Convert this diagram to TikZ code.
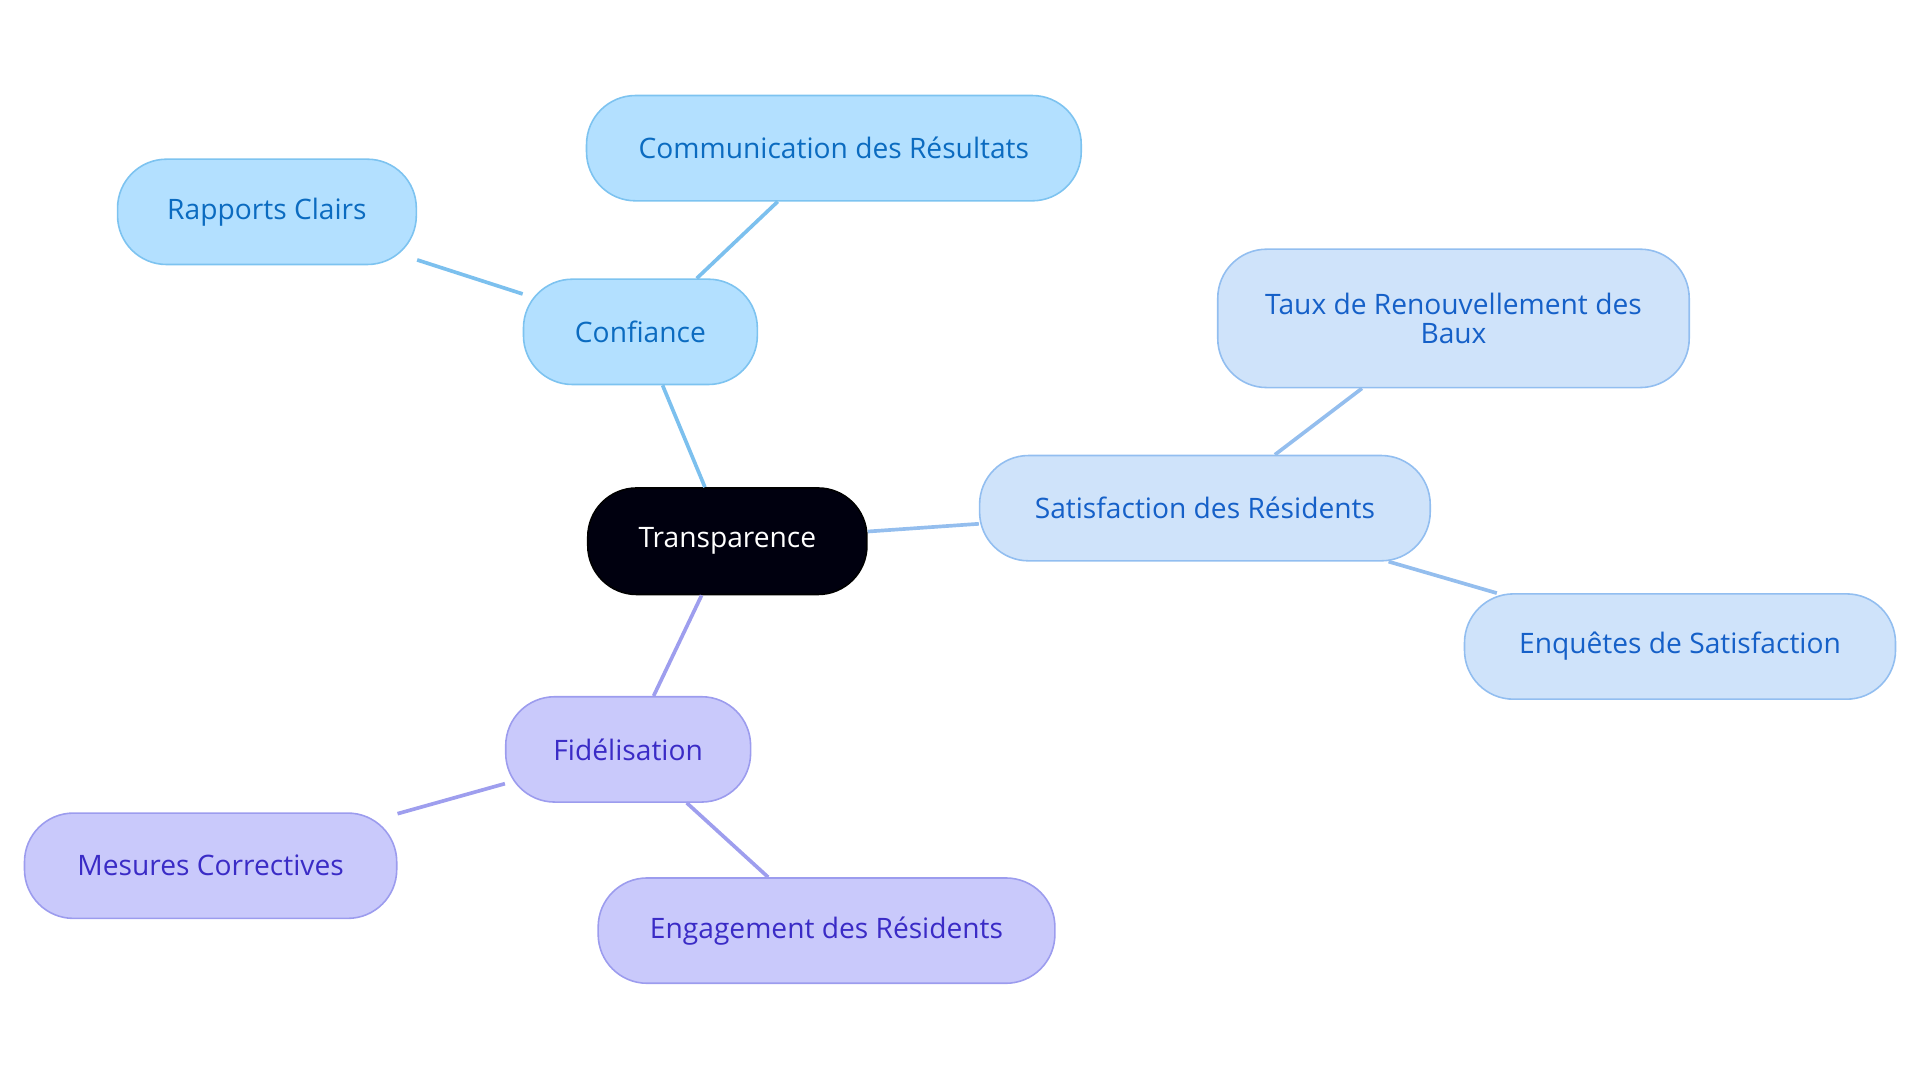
\documentclass[tikz,border=0pt]{standalone}
\usepackage{fontspec}
\setmainfont{Open Sans}
\begin{document}
\begin{tikzpicture}[x=1pt,y=-1pt,
 box/.style={draw,line width=1.3pt,rounded corners=40pt,minimum height=86pt,align=center,font=\fontsize{23}{26}\selectfont,inner sep=0pt},
 blue/.style={box,fill=cA,draw=sA,text=tA},
 sat/.style={box,fill=cB,draw=sB,text=tB},
 pur/.style={box,fill=cC,draw=sC,text=tC},
 eA/.style={draw=lA,line width=3pt},
 eB/.style={draw=lB,line width=3pt},
 eC/.style={draw=lC,line width=3pt}]
\definecolor{cA}{HTML}{B3E0FF}\definecolor{sA}{HTML}{7DC3F0}\definecolor{tA}{HTML}{0B6BC0}
\definecolor{cB}{HTML}{CFE3FA}\definecolor{sB}{HTML}{92BEF0}\definecolor{tB}{HTML}{1560C8}
\definecolor{cC}{HTML}{C9C9FB}\definecolor{sC}{HTML}{9C9CEE}\definecolor{tC}{HTML}{3A2BC6}
\definecolor{lA}{HTML}{7CC0EE}\definecolor{lB}{HTML}{94BEEE}\definecolor{lC}{HTML}{9E9EEE}
\useasboundingbox (0,0) rectangle (1568,884);
\node[box,fill=black!90!blue!60!black,draw=black,text=white,minimum width=228pt,minimum height=87pt] (t) at (594,442) {Transparence};
\node[blue,minimum width=191pt] (c) at (523,271) {Confiance};
\node[blue,minimum width=404pt] (cr) at (681,121) {Communication des Résultats};
\node[blue,minimum width=244pt] (rc) at (218,173) {Rapports Clairs};
\node[sat,minimum width=368pt] (s) at (984,415) {Satisfaction des Résidents};
\node[sat,minimum width=385pt,minimum height=113pt] (tx) at (1187,260) {Taux de Renouvellement des\\[-3pt]Baux};
\node[sat,minimum width=352pt] (e) at (1372,528) {Enquêtes de Satisfaction};
\node[pur,minimum width=200pt] (f) at (513,612) {Fidélisation};
\node[pur,minimum width=304pt] (m) at (172,707) {Mesures Correctives};
\node[pur,minimum width=373pt] (en) at (675,760) {Engagement des Résidents};
\begin{scope}[on background layer/.style={}]
\end{scope}
\path[eA] (t) -- (c); \path[eA] (c) -- (cr); \path[eA] (c) -- (rc);
\path[eB] (t) -- (s); \path[eB] (s) -- (tx); \path[eB] (s) -- (e);
\path[eC] (t) -- (f); \path[eC] (f) -- (m); \path[eC] (f) -- (en);
\end{tikzpicture}
\end{document}
